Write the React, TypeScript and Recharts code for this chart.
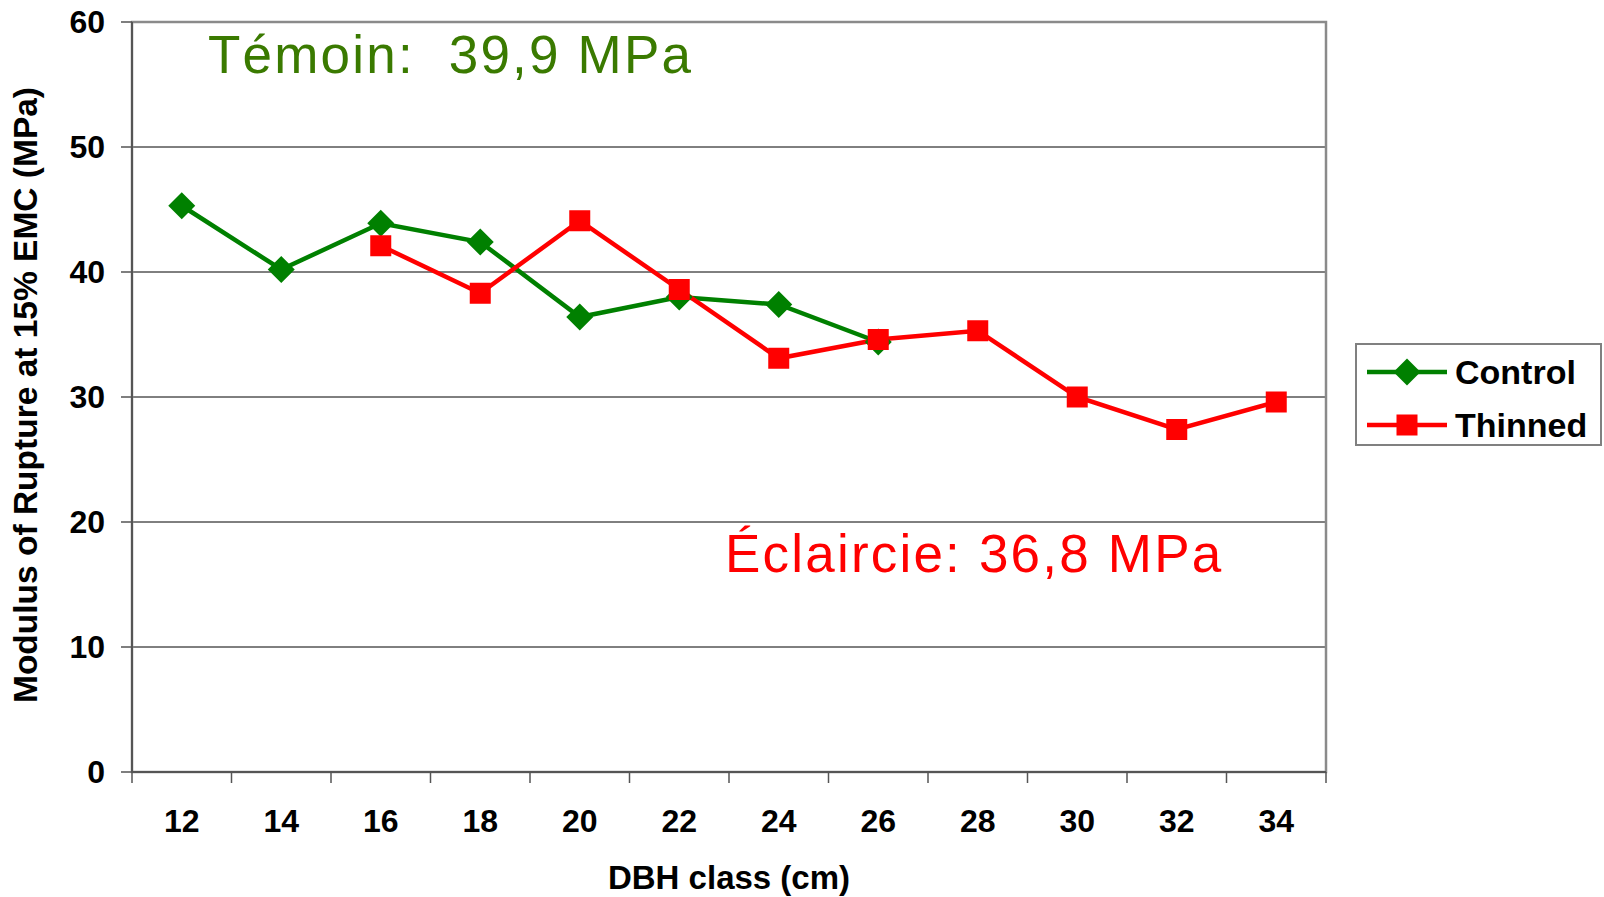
import React from "react";
import {
    LineChart,
    Line,
    XAxis,
    YAxis,
    CartesianGrid,
    Legend,
    ReferenceArea,
    Customized,
} from "recharts";

const dbhClasses = ["12", "14", "16", "18", "20", "22", "24", "26", "28", "30", "32", "34"];
const controlMor = [45.3, 40.2, 43.9, 42.4, 36.4, 38.0, 37.4, 34.4, null, null, null, null];
const thinnedMor = [null, null, 42.1, 38.3, 44.1, 38.6, 33.1, 34.6, 35.3, 30.0, 27.4, 29.6];
const yTicks = [0, 10, 20, 30, 40, 50, 60];

const data = dbhClasses.map((dbh, i) => ({
    dbh,
    control: controlMor[i],
    thinned: thinnedMor[i],
}));

const W = 1604;
const H = 897;
const PLOT_LEFT = 132;
const PLOT_RIGHT = 1326;
const HALF_BAND = (PLOT_RIGHT - PLOT_LEFT) / dbhClasses.length / 2;
const LAST = dbhClasses.length - 1;
const FONT = "'Liberation Sans', Arial, sans-serif";
const GREEN = "#008000";
const RED = "#ff0000";

const XTick = (props: any) => {
    const { x, y, payload, index } = props;
    return (
        <g>
            <line x1={x - HALF_BAND} x2={x - HALF_BAND} y1={y} y2={y + 11} stroke="#555" strokeWidth={1.5} />
            {index === LAST && (
                <line x1={x + HALF_BAND} x2={x + HALF_BAND} y1={y} y2={y + 11} stroke="#555" strokeWidth={1.5} />
            )}
            <text x={x} y={y + 60} textAnchor="middle" fontFamily={FONT} fontWeight="bold" fontSize={32} fill="#000">
                {payload.value}
            </text>
        </g>
    );
};

const Diamond = (props: any) => {
    const { cx, cy, fill } = props;
    if (cy == null || isNaN(cy)) return <g />;
    const r = 13.5;
    return <polygon points={`${cx},${cy - r} ${cx + r},${cy} ${cx},${cy + r} ${cx - r},${cy}`} fill={fill} />;
};

const Square = (props: any) => {
    const { cx, cy, fill } = props;
    if (cy == null || isNaN(cy)) return <g />;
    const s = 10.5;
    return <rect x={cx - s} y={cy - s} width={s * 2} height={s * 2} fill={fill} />;
};

const renderLegend = () => (
    <div
        style={{
            width: 247,
            height: 103,
            border: "2px solid #808080",
            background: "#fff",
            boxSizing: "border-box",
            fontFamily: FONT,
        }}
    >
        <svg width={243} height={99}>
            <line x1={10} x2={90} y1={27} y2={27} stroke={GREEN} strokeWidth={4.5} />
            <Diamond cx={50} cy={27} fill={GREEN} />
            <text x={98} y={39} fontFamily={FONT} fontWeight="bold" fontSize={34}>Control</text>
            <line x1={10} x2={90} y1={80} y2={80} stroke={RED} strokeWidth={4.5} />
            <Square cx={50} cy={80} fill={RED} />
            <text x={98} y={92} fontFamily={FONT} fontWeight="bold" fontSize={34}>Thinned</text>
        </svg>
    </div>
);

const Annotations = () => (
    <g>
        <text x={208} y={73} fontFamily={FONT} fontSize={53} letterSpacing={2.2} fill="#3a7a00">
            {"Témoin:\u00A0 39,9 MPa"}
        </text>
        <text x={725} y={572} fontFamily={FONT} fontSize={53} letterSpacing={2.2} fill={RED}>
            {"Éclaircie: 36,8 MPa"}
        </text>
        <text
            x={729}
            y={889}
            textAnchor="middle"
            fontFamily={FONT}
            fontWeight="bold"
            fontSize={33}
            fill="#000"
        >
            DBH class (cm)
        </text>
        <text
            transform="translate(37, 395) rotate(-90)"
            textAnchor="middle"
            fontFamily={FONT}
            fontWeight="bold"
            fontSize={33.5}
            fill="#000"
        >
            Modulus of Rupture at 15% EMC (MPa)
        </text>
    </g>
);

export default function App() {
    return (
        <div style={{ position: "absolute", left: 0, top: 0, width: W, height: H, background: "#fff" }}>
            <LineChart
                width={W}
                height={H}
                data={data}
                margin={{ top: 22, right: W - PLOT_RIGHT, left: 0, bottom: 0 }}
            >
                <CartesianGrid horizontal vertical={false} stroke="#000" strokeWidth={1} />
                <XAxis xAxisId="frame" type="number" domain={[0, LAST]} allowDataOverflow hide />
                <ReferenceArea
                    xAxisId="frame"
                    x1={0}
                    x2={LAST}
                    y1={0}
                    y2={60}
                    fill="none"
                    stroke="#8a8a8a"
                    strokeWidth={2.5}
                />
                <XAxis
                    dataKey="dbh"
                    height={125}
                    padding={{ left: HALF_BAND, right: HALF_BAND }}
                    axisLine={{ stroke: "#555", strokeWidth: 2 }}
                    tickLine={false}
                    tickSize={0}
                    tickMargin={0}
                    tick={<XTick />}
                    interval={0}
                />
                <YAxis
                    width={PLOT_LEFT}
                    domain={[0, 60]}
                    ticks={yTicks}
                    axisLine={{ stroke: "#555", strokeWidth: 2 }}
                    tickLine={{ stroke: "#555", strokeWidth: 1.5 }}
                    tickSize={11}
                    tickMargin={16}
                    tick={{ fill: "#000", fontSize: 32, fontWeight: "bold", fontFamily: FONT }}
                />
                <Line
                    dataKey="control"
                    name="Control"
                    stroke={GREEN}
                    strokeWidth={4.5}
                    dot={<Diamond fill={GREEN} />}
                    activeDot={false}
                    isAnimationActive={false}
                />
                <Line
                    dataKey="thinned"
                    name="Thinned"
                    stroke={RED}
                    strokeWidth={4.5}
                    dot={<Square fill={RED} />}
                    activeDot={false}
                    isAnimationActive={false}
                />
                <Legend
                    layout="vertical"
                    align="center"
                    verticalAlign="middle"
                    content={renderLegend}
                    wrapperStyle={{ position: "absolute", left: 1355, top: 343, width: 247, height: 103 }}
                />
                <Customized component={Annotations} />
            </LineChart>
        </div>
    );
}
